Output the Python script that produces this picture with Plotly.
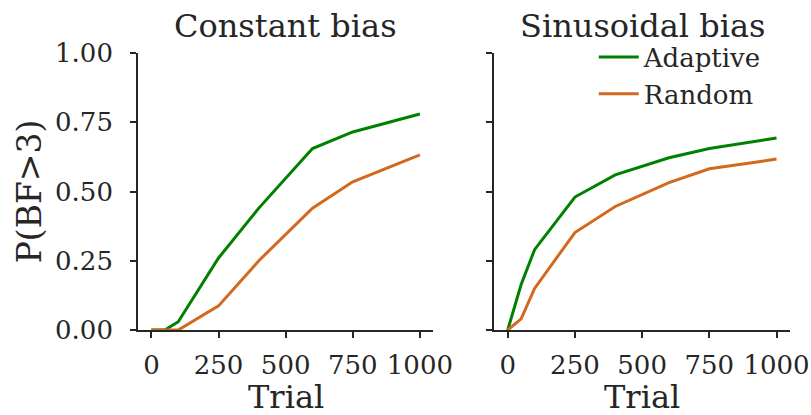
import plotly.graph_objects as go
from plotly.subplots import make_subplots

trials = [0, 50, 100, 250, 400, 600, 750, 1000]
const_adaptive = [0.0, 0.0, 0.03, 0.26, 0.44, 0.655, 0.715, 0.78]
const_random = [0.0, 0.0, 0.0, 0.087, 0.25, 0.44, 0.535, 0.632]
sin_adaptive = [0.0, 0.164, 0.29, 0.48, 0.56, 0.622, 0.655, 0.693]
sin_random = [0.0, 0.04, 0.15, 0.352, 0.446, 0.532, 0.582, 0.617]

titles = ["Constant bias", "Sinusoidal bias"]
series_names = ["Adaptive", "Random"]
colors = ["#008000", "#D2691E"]
xticks = [0, 250, 500, 750, 1000]
yticks = [0, 0.25, 0.5, 0.75, 1.0]
ytick_text = ["0.00", "0.25", "0.50", "0.75", "1.00"]
x_title = "Trial"
y_title = "P(BF>3)"

FONT = "DejaVu Serif"
INK = "#262626"

fig = make_subplots(rows=1, cols=2, shared_yaxes=True, horizontal_spacing=0.0935,
                    subplot_titles=titles)

panels = [(const_adaptive, const_random), (sin_adaptive, sin_random)]
for ci, (a, r) in enumerate(panels, start=1):
    for name, vals, col in zip(series_names, (a, r), colors):
        fig.add_trace(go.Scatter(x=trials, y=vals, mode="lines", name=name,
                                 line=dict(color=col, width=3),
                                 showlegend=(ci == 2)), row=1, col=ci)

axis_common = dict(showline=True, linecolor=INK, linewidth=1.75, ticks="outside",
                   ticklen=6, tickwidth=1.75, tickcolor=INK, showgrid=False,
                   zeroline=False, automargin=False,
                   tickfont=dict(family=FONT, size=26, color=INK))

for ci in (1, 2):
    fig.update_xaxes(range=[-50, 1050], tickvals=xticks, ticklabelstandoff=5,
                     row=1, col=ci, **axis_common)
    fig.update_yaxes(range=[0, 1], tickvals=yticks, ticktext=ytick_text,
                     ticklabelstandoff=12, row=1, col=ci, **axis_common)

fig.update_yaxes(title=dict(text=y_title, font=dict(family=FONT, size=33, color=INK),
                            standoff=3), row=1, col=1)
fig.update_yaxes(showticklabels=False, row=1, col=2)

fig.update_xaxes(domain=[0.0, 0.4529], row=1, col=1)
fig.update_xaxes(domain=[0.5464, 1.0], row=1, col=2)

for ann in fig.layout.annotations:
    ann.font = dict(family=FONT, size=32, color=INK)
    ann.yshift = 6

for xr in ("x domain", "x2 domain"):
    fig.add_annotation(text=x_title, xref=xr, x=0.5, yref="paper", y=0,
                       xanchor="center", yanchor="top", yshift=-46, showarrow=False,
                       font=dict(family=FONT, size=32, color=INK))

fig.update_layout(
    width=811, height=415,
    margin=dict(l=137.5, r=21, t=53, b=85),
    paper_bgcolor="white", plot_bgcolor="white",
    font=dict(family=FONT, color=INK),
    legend=dict(x=0.699, y=1.07, xanchor="left", yanchor="top",
                font=dict(family=FONT, size=26, color=INK),
                bgcolor="rgba(0,0,0,0)", itemwidth=40, tracegroupgap=0),
)

fig.write_html("out.html")
